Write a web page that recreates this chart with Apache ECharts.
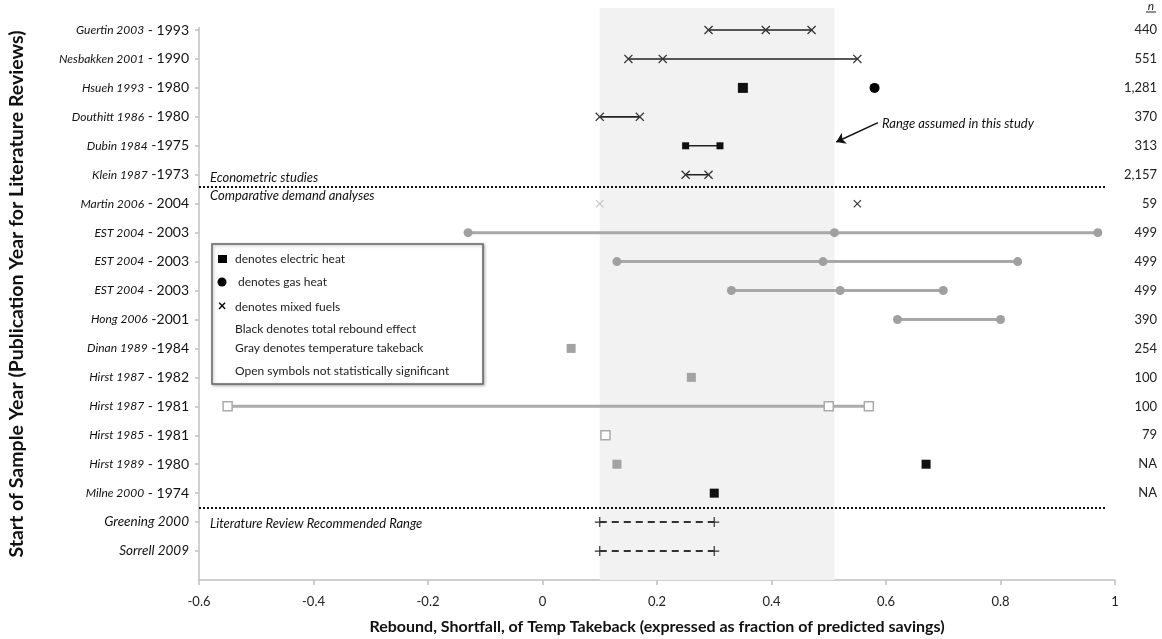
<!DOCTYPE html>
<html>
<head>
<meta charset="utf-8">
<script src="https://cdn.jsdelivr.net/npm/echarts@6/dist/echarts.min.js"></script>
<style>
html, body { margin: 0; padding: 0; background: #fff; }
#main { width: 1162px; height: 639px; }
</style>
</head>
<body>
<div id="main"></div>
<script>
// rows from top to bottom
var studies = ['Guertin 2003', 'Nesbakken 2001', 'Hsueh 1993', 'Douthitt 1986', 'Dubin 1984', 'Klein 1987',
    'Martin 2006', 'EST 2004', 'EST 2004', 'EST 2004', 'Hong 2006', 'Dinan 1989', 'Hirst 1987', 'Hirst 1987',
    'Hirst 1985', 'Hirst 1989', 'Milne 2000', 'Greening 2000', 'Sorrell 2009'];
var sampleYears = [' - 1993', ' - 1990', ' - 1980', ' - 1980', ' -1975', ' -1973', ' - 2004', ' - 2003', ' - 2003',
    ' - 2003', ' -2001', ' -1984', ' - 1982', ' - 1981', ' - 1981', ' - 1980', ' - 1974', '', ''];
var nObs = ['440', '551', '1,281', '370', '313', '2,157', '59', '499', '499', '499', '390', '254', '100', '100',
    '79', 'NA', 'NA', '', ''];

// estimates (fraction of predicted savings), one array per row
var guertin = [0.29, 0.39, 0.47];
var nesbakken = [0.15, 0.21, 0.55];
var hsuehElec = [0.35];
var hsuehGas = [0.58];
var douthitt = [0.10, 0.17];
var dubin = [0.25, 0.31];
var klein = [0.25, 0.29];
var martinGray = [0.10];
var martinBlack = [0.55];
var est1 = [-0.13, 0.51, 0.97];
var est2 = [0.13, 0.49, 0.83];
var est3 = [0.33, 0.52, 0.70];
var hong = [0.62, 0.80];
var dinan = [0.05];
var hirst87a = [0.26];
var hirst87b = [-0.55, 0.50, 0.57];
var hirst85 = [0.11];
var hirst89Gray = [0.13];
var hirst89Black = [0.67];
var milne = [0.30];
var greening = [0.10, 0.30];
var sorrell = [0.10, 0.30];
var assumedRange = [0.10, 0.51];

var FONT = 'Lato';
var nRows = studies.length;
var yMax = 19.76;
var rowValues = studies.map(function (s, i) { return nRows - i; });

var crossPath = 'path://M0,1L1,0L5,4L9,0L10,1L6,5L10,9L9,10L5,6L1,10L0,9L4,5Z';
var plusPath = 'path://M4.4,0H5.6V4.4H10V5.6H5.6V10H4.4V5.6H0V4.4H4.4Z';

var styles = {
    mixedBlack: { symbol: crossPath, size: 9, color: '#333', line: { color: '#222', width: 1.6 } },
    elecBlack: { symbol: 'rect', size: 10, color: '#111', line: { color: '#222', width: 1.6 } },
    gasBlack: { symbol: 'circle', size: 10, color: '#000' },
    mixedGrayOpen: { symbol: crossPath, size: 8, color: '#c4c4c4' },
    gasGray: { symbol: 'circle', size: 9, color: '#a0a0a0', line: { color: '#a8a8a8', width: 3 } },
    elecGray: { symbol: 'rect', size: 9, color: '#a3a3a3' },
    elecGrayOpen: { symbol: 'rect', size: 9, color: '#fff', border: '#aaa', line: { color: '#ababab', width: 3 } },
    recommended: { symbol: plusPath, size: 10, color: '#333', line: { color: '#333', width: 2, type: [7, 5] } }
};

// [row index, values, style, symbol size override]
var marks = [
    [0, guertin, 'mixedBlack'],
    [1, nesbakken, 'mixedBlack'],
    [2, hsuehElec, 'elecBlack'],
    [2, hsuehGas, 'gasBlack'],
    [3, douthitt, 'mixedBlack'],
    [4, dubin, 'elecBlack', 7],
    [5, klein, 'mixedBlack'],
    [6, martinGray, 'mixedGrayOpen'],
    [6, martinBlack, 'mixedBlack', 8],
    [7, est1, 'gasGray'],
    [8, est2, 'gasGray'],
    [9, est3, 'gasGray'],
    [10, hong, 'gasGray'],
    [11, dinan, 'elecGray'],
    [12, hirst87a, 'elecGray'],
    [13, hirst87b, 'elecGrayOpen'],
    [14, hirst85, 'elecGrayOpen'],
    [15, hirst89Gray, 'elecGray'],
    [15, hirst89Black, 'elecBlack', 9],
    [16, milne, 'elecBlack', 9],
    [17, greening, 'recommended'],
    [18, sorrell, 'recommended']
];

var series = [];

// shaded band, axis line, separators and arrow
series.push({
    type: 'line',
    data: [],
    z: 1,
    silent: true,
    markArea: {
        silent: true,
        itemStyle: { color: '#f2f2f2' },
        data: [[{ xAxis: assumedRange[0], yAxis: 0 }, { xAxis: assumedRange[1], yAxis: yMax }]]
    },
    markLine: {
        silent: true,
        symbol: 'none',
        label: { show: false },
        animation: false,
        data: [
            [{ coord: [-0.6, 0], lineStyle: { color: '#c0c0c0', width: 1.5, type: 'solid' } }, { coord: [-0.6, 19.1] }],
            [{ coord: [-0.6, 13.6], lineStyle: { color: '#111', width: 2, type: [2, 2] } }, { coord: [0.985, 13.6] }],
            [{ coord: [-0.6, 2.48], lineStyle: { color: '#111', width: 2, type: [2, 2] } }, { coord: [0.985, 2.48] }]
        ]
    }
});
series.push({
    type: 'line',
    data: [],
    silent: true,
    markLine: {
        silent: true,
        symbol: ['none', 'arrow'],
        symbolSize: 9,
        label: { show: false },
        animation: false,
        lineStyle: { color: '#111', width: 1.5, type: 'solid' },
        data: [[{ coord: [0.586, 15.8] }, { coord: [0.513, 15.13] }]]
    }
});

marks.forEach(function (m) {
    var st = styles[m[2]];
    var y = rowValues[m[0]];
    series.push({
        type: 'line',
        data: m[1].map(function (v) { return [v, y]; }),
        symbol: st.symbol,
        symbolSize: m[3] || st.size,
        showSymbol: true,
        z: 3,
        itemStyle: {
            color: st.color,
            borderColor: st.border || st.color,
            borderWidth: st.border ? 1.5 : 0,
            opacity: 1
        },
        lineStyle: st.line ? st.line : { width: 0 },
        animation: false
    });
});

var legendX = 212, legendY = 244;
var legendFont = '12px ' + FONT;
function legendText(x, y, t) {
    return { type: 'text', z: 11, x: legendX + x, y: legendY + y, style: { text: t, font: legendFont, fill: '#222', textVerticalAlign: 'middle' } };
}

var option = {
    backgroundColor: '#fff',
    animation: false,
    textStyle: { fontFamily: FONT },
    grid: { left: 199, right: 47, top: 8, bottom: 59, containLabel: false, outerBoundsMode: 'none' },
    xAxis: {
        type: 'value',
        min: -0.6,
        max: 1,
        interval: 0.2,
        name: 'Rebound, Shortfall, of Temp Takeback (expressed as fraction of predicted savings)',
        nameLocation: 'middle',
        nameGap: 39,
        nameTextStyle: { fontFamily: FONT, fontWeight: 'bold', fontSize: 16, color: '#111' },
        axisLine: { show: true, onZero: false, lineStyle: { color: '#c0c0c0', width: 1.5 } },
        axisTick: { show: true, length: 5, lineStyle: { color: '#c0c0c0', width: 1.5 } },
        splitLine: { show: false },
        axisLabel: {
            margin: 15,
            fontSize: 13,
            color: '#222',
            formatter: function (v) { return String(Math.round(v * 10) / 10); }
        }
    },
    yAxis: [{
        type: 'value',
        min: 0,
        max: yMax,
        position: 'left',
        name: 'Start of Sample Year (Publication Year for Literature Reviews)',
        nameLocation: 'middle',
        nameGap: 172,
        nameTextStyle: { fontFamily: FONT, fontWeight: 'bold', fontSize: 19.5, color: '#111' },
        axisLine: { show: false, onZero: false },
        splitLine: { show: false },
        axisTick: { show: true, length: 4, customValues: rowValues, lineStyle: { color: '#c0c0c0', width: 1.5 } },
        axisLabel: {
            margin: 10,
            customValues: rowValues,
            formatter: function (v) {
                var i = nRows - Math.round(v);
                if (i < 0 || i >= nRows) return '';
                if (!sampleYears[i]) return '{c|' + studies[i] + '}';
                return '{a|' + studies[i] + '}{b|' + sampleYears[i] + '}';
            },
            rich: {
                a: { fontFamily: FONT, fontStyle: 'italic', fontSize: 12, color: '#111' },
                b: { fontFamily: FONT, fontSize: 14, color: '#111' },
                c: { fontFamily: FONT, fontStyle: 'italic', fontSize: 13.5, color: '#111' }
            }
        }
    }, {
        type: 'value',
        min: 0,
        max: yMax,
        position: 'right',
        axisLine: { show: false, onZero: false },
        axisTick: { show: false },
        splitLine: { show: false },
        axisLabel: {
            margin: 42,
            align: 'right',
            fontSize: 13,
            color: '#222',
            customValues: rowValues,
            formatter: function (v) {
                var i = nRows - Math.round(v);
                return nObs[i] || '';
            }
        }
    }],
    graphic: [
        { type: 'text', x: 1151, y: 6, style: { text: 'n', font: 'italic 12px ' + FONT, fill: '#222', textAlign: 'center', textVerticalAlign: 'middle' } },
        { type: 'line', shape: { x1: 1146, y1: 12, x2: 1156, y2: 12 }, style: { stroke: '#222', lineWidth: 1 } },
        { type: 'text', x: 210, y: 178, style: { text: 'Econometric studies', font: 'italic 13px ' + FONT, fill: '#111', textVerticalAlign: 'middle' } },
        { type: 'text', x: 210, y: 196, style: { text: 'Comparative demand analyses', font: 'italic 13px ' + FONT, fill: '#111', textVerticalAlign: 'middle' } },
        { type: 'text', x: 210, y: 524, style: { text: 'Literature Review Recommended Range', font: 'italic 13px ' + FONT, fill: '#111', textVerticalAlign: 'middle' } },
        { type: 'text', x: 882, y: 124, style: { text: 'Range assumed in this study', font: 'italic 13px ' + FONT, fill: '#111', textVerticalAlign: 'middle' } },
        {
            type: 'rect',
            shape: { x: legendX, y: legendY, width: 271, height: 140 },
            style: { fill: '#fff', stroke: '#666', lineWidth: 1.5, shadowBlur: 3, shadowOffsetX: 1, shadowOffsetY: 1, shadowColor: 'rgba(0,0,0,0.3)' },
            z: 10
        },
        { type: 'rect', z: 11, shape: { x: legendX + 6, y: legendY + 11, width: 9, height: 8 }, style: { fill: '#000' } },
        legendText(23, 15, 'denotes electric heat'),
        { type: 'circle', z: 11, shape: { cx: legendX + 10, cy: legendY + 38, r: 4.5 }, style: { fill: '#000' } },
        legendText(26, 38, 'denotes gas heat'),
        { type: 'text', z: 11, x: legendX + 10, y: legendY + 62, style: { text: '×', font: 'bold 15px ' + FONT, fill: '#000', textAlign: 'center', textVerticalAlign: 'middle' } },
        legendText(23, 63, 'denotes mixed fuels'),
        legendText(23, 85, 'Black denotes total rebound effect'),
        legendText(23, 104, 'Gray denotes temperature takeback'),
        legendText(23, 127, 'Open symbols not statistically significant')
    ],
    series: series
};

var chart = echarts.init(document.getElementById('main'));
chart.setOption(option);
</script>
</body>
</html>
